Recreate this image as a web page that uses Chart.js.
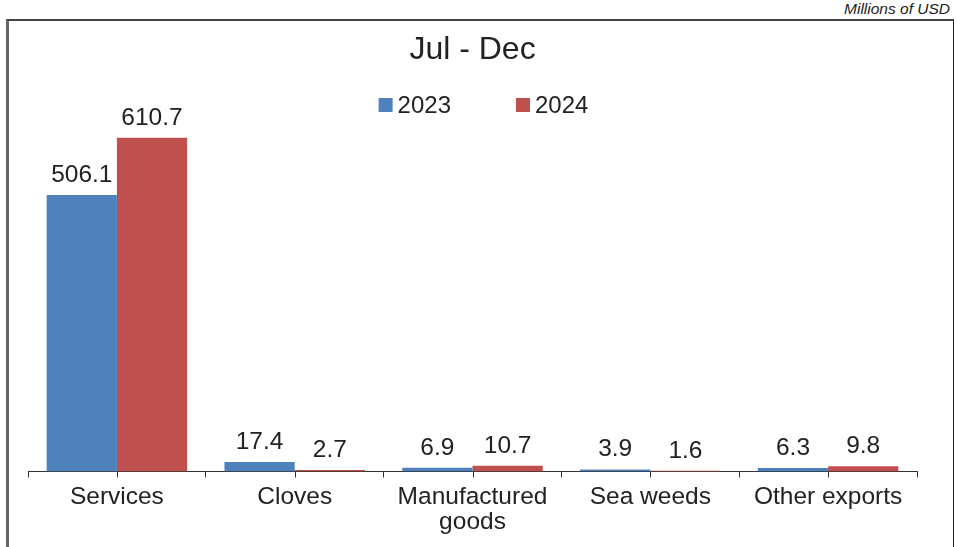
<!DOCTYPE html>
<html>
<head>
<meta charset="utf-8">
<title>Jul - Dec exports</title>
<script src="https://cdn.jsdelivr.net/npm/chart.js@4"></script>
<style>
  body { margin: 0; background: #fff; font-family: "Liberation Sans", Arial, sans-serif; }
  #unit {
    position: absolute; right: 7px; top: 0px;
    font-size: 15.5px; font-style: italic; color: #222;
  }
  #frame {
    position: absolute; left: 6px; top: 19px; width: 944px; height: 540px;
    border-top: 2px solid #444; border-left: 3px solid #666; border-right: 1px solid #222;
  }
  #wrap { position: absolute; left: 0; top: 0; width: 957px; height: 547px; }
</style>
</head>
<body>
<div id="unit">Millions of USD</div>
<div id="frame"></div>
<div id="wrap"><canvas id="chart"></canvas></div>
<script>
const categories = ["Services", "Cloves", ["Manufactured", "goods"], "Sea weeds", "Other exports"];
const values2023 = [506.1, 17.4, 6.9, 3.9, 6.3];
const values2024 = [610.7, 2.7, 10.7, 1.6, 9.8];

const FONT = "'Liberation Sans', Arial, sans-serif";
const TEXT = "#222";

// value labels above each bar
const barLabels = {
  id: "barLabels",
  afterDatasetsDraw(chart) {
    const ctx = chart.ctx;
    ctx.save();
    ctx.font = "24.5px " + FONT;
    ctx.fillStyle = TEXT;
    ctx.textAlign = "center";
    ctx.textBaseline = "alphabetic";
    chart.data.datasets.forEach((ds, i) => {
      chart.getDatasetMeta(i).data.forEach((bar, j) => {
        ctx.fillText(ds.data[j].toFixed(1), bar.x, bar.y - 13);
      });
    });
    ctx.restore();
  },
};

// short tick marks under the middle of each category
const centerTicks = {
  id: "centerTicks",
  afterDraw(chart) {
    const x = chart.scales.x;
    const ctx = chart.ctx;
    ctx.save();
    ctx.strokeStyle = "#333";
    ctx.lineWidth = 1;
    ctx.beginPath();
    categories.forEach((c, i) => {
      const px = Math.round(x.getPixelForValue(i)) + 0.5;
      ctx.moveTo(px, x.top);
      ctx.lineTo(px, x.top + 6);
    });
    ctx.stroke();
    ctx.restore();
  },
};

// legend row under the title: square swatch, then the series name
const seriesLegend = {
  id: "seriesLegend",
  afterDraw(chart) {
    const ctx = chart.ctx;
    const box = 14, gap = 5, spacing = 65, y = 105;
    ctx.save();
    ctx.font = "24px " + FONT;
    ctx.textBaseline = "middle";
    ctx.textAlign = "left";
    const items = chart.data.datasets.map((ds) => ({
      text: ds.label,
      color: ds.backgroundColor,
      w: box + gap + ctx.measureText(ds.label).width,
    }));
    const total = items.reduce((s, it) => s + it.w, 0) + spacing * (items.length - 1);
    let x = chart.width / 2 + 5 - total / 2;
    items.forEach((it) => {
      ctx.fillStyle = it.color;
      ctx.fillRect(x, y - box / 2, box, box);
      ctx.fillStyle = TEXT;
      ctx.fillText(it.text, x + box + gap, y + 1);
      x += it.w + spacing;
    });
    ctx.restore();
  },
};

new Chart(document.getElementById("chart"), {
  type: "bar",
  data: {
    labels: categories,
    datasets: [
      { label: "2023", data: values2023, backgroundColor: "#4F81BD" },
      { label: "2024", data: values2024, backgroundColor: "#C0504D" },
    ],
  },
  options: {
    responsive: true,
    maintainAspectRatio: false,
    animation: false,
    categoryPercentage: 0.79,
    barPercentage: 1.0,
    layout: { padding: { left: 28, right: 40, top: 10, bottom: 5 } },
    plugins: {
      title: {
        display: true,
        text: "Jul - Dec",
        color: TEXT,
        font: { family: FONT, size: 32, weight: "normal" },
        padding: { top: 21, bottom: 47 },
      },
      legend: { display: false },
      tooltip: { enabled: false },
    },
    scales: {
      x: {
        grid: { display: true, drawOnChartArea: false, drawTicks: true, tickLength: 6, color: "#333", offset: true },
        border: { display: true, color: "#333", width: 1 },
        ticks: { color: TEXT, font: { family: FONT, size: 24.5, lineHeight: 1.03 }, padding: 7, maxRotation: 0 },
      },
      y: { display: false, min: 0, max: 650 },
    },
  },
  plugins: [barLabels, centerTicks, seriesLegend],
});
</script>
</body>
</html>
